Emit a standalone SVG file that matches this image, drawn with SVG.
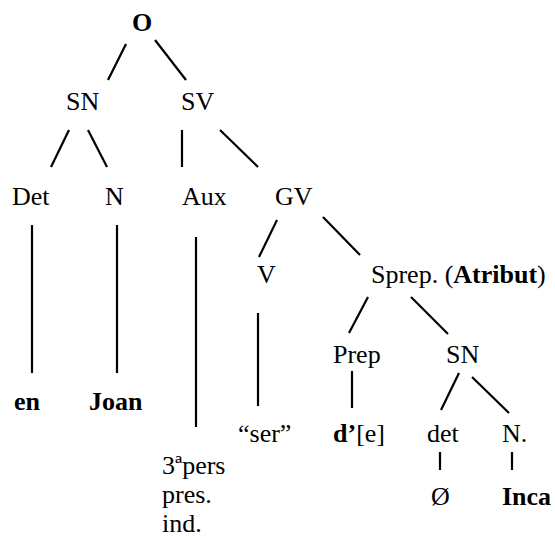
<svg xmlns="http://www.w3.org/2000/svg" width="555" height="537" viewBox="0 0 555 537" font-family="'Liberation Serif', 'DejaVu Serif', serif" font-size="26">
<style>
  text { font-family: "Liberation Serif", "DejaVu Serif", serif; font-size: 26px; fill: #000; }
  .b { font-weight: bold; }
  .edges line { stroke: #000; stroke-width: 2.2; stroke-linecap: butt; }
</style>
<rect width="555" height="537" fill="#fff"/>
<g class="edges" id="connectors">
  <line x1="126" y1="44" x2="108" y2="80"/>
  <line x1="155" y1="40" x2="186" y2="80"/>
  <line x1="69" y1="130" x2="51" y2="167"/>
  <line x1="88" y1="130" x2="107" y2="167"/>
  <line x1="182" y1="130" x2="182" y2="167"/>
  <line x1="220" y1="130" x2="258" y2="167"/>
  <line x1="277" y1="220" x2="259" y2="257"/>
  <line x1="323" y1="217" x2="360" y2="255"/>
  <line x1="368" y1="297" x2="349" y2="333"/>
  <line x1="411" y1="297" x2="448" y2="334"/>
  <line x1="32" y1="225" x2="32" y2="373"/>
  <line x1="117" y1="225" x2="117" y2="373"/>
  <line x1="196" y1="237" x2="196" y2="427"/>
  <line x1="258" y1="313" x2="258" y2="406"/>
  <line x1="352" y1="371" x2="352" y2="408"/>
  <line x1="459" y1="373" x2="441" y2="410"/>
  <line x1="472" y1="377" x2="509" y2="413"/>
  <line x1="440" y1="452" x2="440" y2="470"/>
  <line x1="512" y1="452" x2="512" y2="470"/>
</g>
<g id="node-O"><text class="b" x="132" y="31">O</text></g>
<g id="node-SN"><text x="66" y="110">SN</text></g>
<g id="node-SV"><text x="181" y="110">SV</text></g>
<g id="node-Det"><text x="12" y="205">Det</text></g>
<g id="node-N"><text x="105" y="205">N</text></g>
<g id="node-Aux"><text x="182" y="205">Aux</text></g>
<g id="node-GV"><text x="275" y="205">GV</text></g>
<g id="node-V"><text x="257" y="283">V</text></g>
<g id="node-Sprep"><text x="371" y="283">Sprep. (<tspan class="b">Atribut</tspan>)</text></g>
<g id="node-Prep"><text x="333" y="363">Prep</text></g>
<g id="node-SN2"><text x="446" y="363">SN</text></g>
<g id="node-en"><text class="b" x="14" y="410">en</text></g>
<g id="node-Joan"><text class="b" x="89" y="410">Joan</text></g>
<g id="node-ser"><text x="238" y="442">“ser”</text></g>
<g id="node-de"><text x="333" y="442"><tspan class="b">d’</tspan>[e]</text></g>
<g id="node-det"><text x="427" y="442">det</text></g>
<g id="node-N2"><text x="502" y="442">N.</text></g>
<g id="node-3pers"><text x="162" y="474">3ªpers</text><text x="162" y="503">pres.</text><text x="162" y="532">ind.</text></g>
<g id="node-O-slash"><text x="431" y="505">Ø</text></g>
<g id="node-Inca"><text class="b" x="502" y="505">Inca</text></g>
</svg>
